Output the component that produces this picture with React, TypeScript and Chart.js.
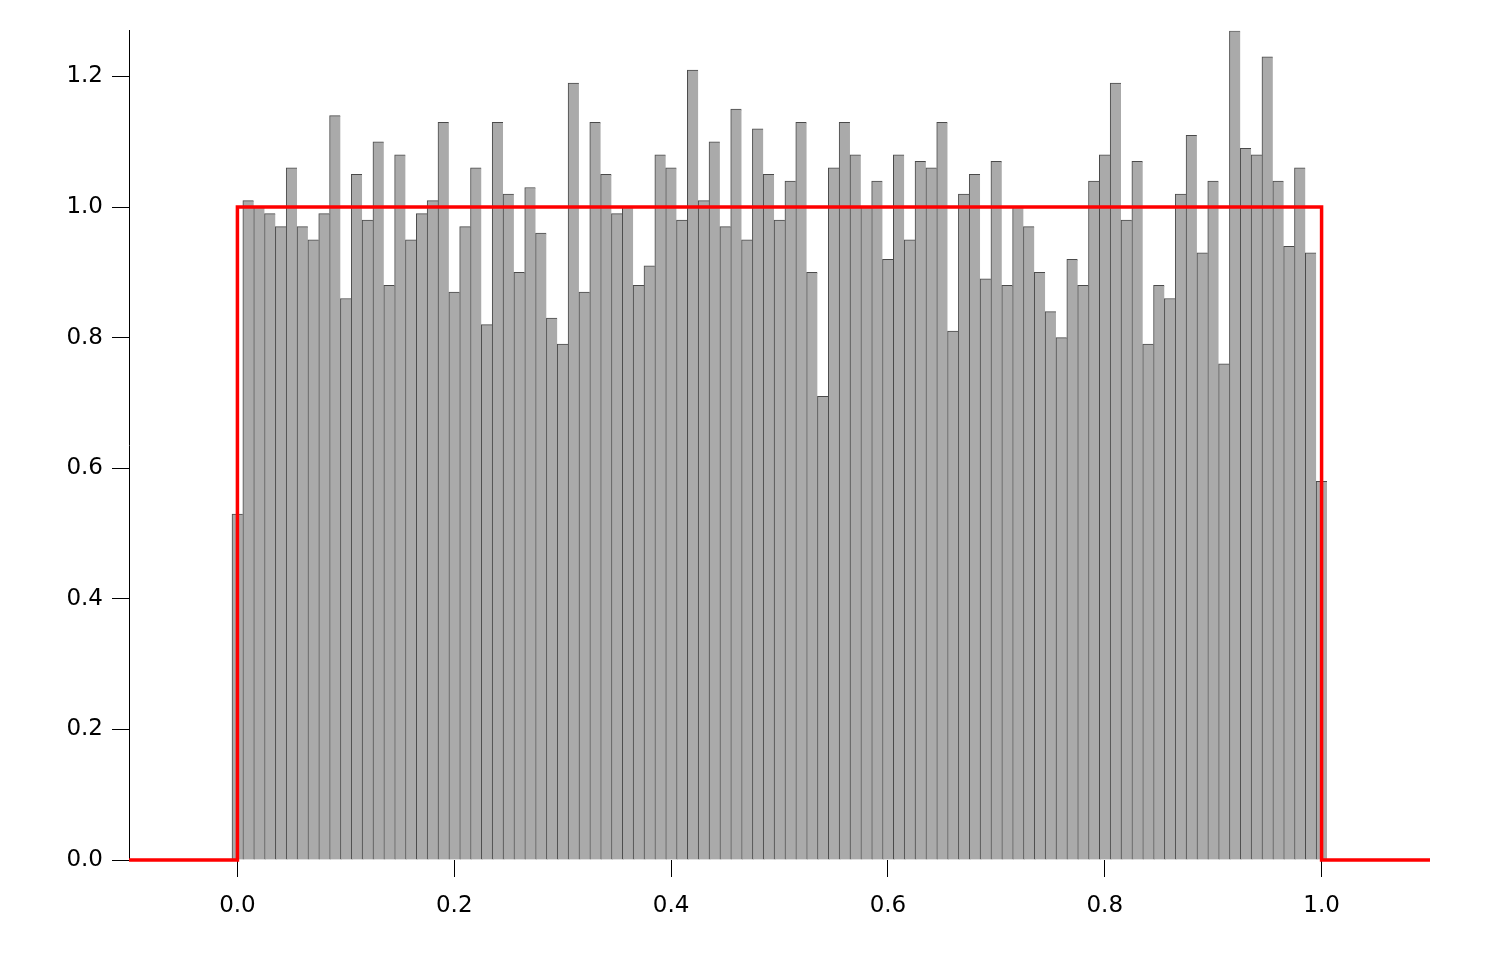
import React, { useEffect, useRef } from "react";
import { Chart, registerables } from "chart.js";

Chart.register(...registerables);

// Histogram bin centres (bin width 0.01) and normalised heights
const binCenters: number[] = Array.from({ length: 101 }, (_, i) => i / 100);
const density: number[] = [
  0.53, 1.01, 1.0, 0.99, 0.97, 1.06, 0.97, 0.95, 0.99, 1.14,
  0.86, 1.05, 0.98, 1.1, 0.88, 1.08, 0.95, 0.99, 1.01, 1.13,
  0.87, 0.97, 1.06, 0.82, 1.13, 1.02, 0.9, 1.03, 0.96, 0.83,
  0.79, 1.19, 0.87, 1.13, 1.05, 0.99, 1.0, 0.88, 0.91, 1.08,
  1.06, 0.98, 1.21, 1.01, 1.1, 0.97, 1.15, 0.95, 1.12, 1.05,
  0.98, 1.04, 1.13, 0.9, 0.71, 1.06, 1.13, 1.08, 1.0, 1.04,
  0.92, 1.08, 0.95, 1.07, 1.06, 1.13, 0.81, 1.02, 1.05, 0.89,
  1.07, 0.88, 1.0, 0.97, 0.9, 0.84, 0.8, 0.92, 0.88, 1.04,
  1.08, 1.19, 0.98, 1.07, 0.79, 0.88, 0.86, 1.02, 1.11, 0.93,
  1.04, 0.76, 1.27, 1.09, 1.08, 1.23, 1.04, 0.94, 1.06, 0.93,
  0.58,
];

// Uniform PDF outline
const pdfX: number[] = [-0.1, 0, 0, 1, 1, 1.1];
const pdfY: number[] = [0, 0, 1, 1, 0, 0];

const xTicks: number[] = [0, 0.2, 0.4, 0.6, 0.8, 1.0];
const yTicks: number[] = [0, 0.2, 0.4, 0.6, 0.8, 1.0, 1.2];

export default function App() {
  const ref = useRef<HTMLCanvasElement>(null);

  useEffect(() => {
    if (!ref.current) return;
    const font = { family: "'DejaVu Sans', sans-serif", size: 23 };
    const chart = new Chart(ref.current, {
      type: "bar",
      data: {
        datasets: [
          {
            type: "line",
            data: pdfX.map((x, i) => ({ x, y: pdfY[i] })),
            borderColor: "#ff0000",
            borderWidth: 3.5,
            pointRadius: 0,
            tension: 0,
            fill: false,
            borderJoinStyle: "miter",
            borderCapStyle: "butt",
            clip: false,
            order: 0,
          } as any,
          {
            type: "bar",
            data: binCenters.map((x, i) => ({ x, y: density[i] })),
            backgroundColor: "#aaaaaa",
            borderColor: "#4a4a4a",
            borderWidth: { top: 1, left: 1, right: 0, bottom: 0 },
            borderSkipped: false,
            barPercentage: 1,
            categoryPercentage: 1,
            order: 1,
          } as any,
        ],
      },
      options: {
        responsive: false,
        animation: false,
        devicePixelRatio: 1,
        layout: { padding: { top: 22, right: 56, left: 0, bottom: 0 } },
        plugins: {
          legend: { display: false },
          tooltip: { enabled: false },
        },
        scales: {
          x: {
            type: "linear",
            min: -0.1,
            max: 1.1,
            offset: false,
            grid: {
              display: true,
              drawOnChartArea: false,
              drawTicks: true,
              tickLength: 17,
              color: "#000",
              lineWidth: 1,
              offset: false,
            },
            border: { display: false },
            ticks: {
              font,
              color: "#000",
              padding: 15,
              maxRotation: 0,
              autoSkip: false,
              callback: (v: any) => Number(v).toFixed(1),
            },
            afterBuildTicks: (s: any) => {
              s.ticks = xTicks.map((v) => ({ value: v }));
            },
            afterFit: (s: any) => {
              s.height = 88;
            },
          },
          y: {
            type: "linear",
            min: 0,
            max: 1.27,
            grid: {
              display: true,
              drawOnChartArea: false,
              drawTicks: true,
              tickLength: 17,
              color: "#000",
              lineWidth: 1,
            },
            border: { display: true, color: "#000", width: 1 },
            ticks: {
              font,
              color: "#000",
              padding: 9,
              callback: (v: any) => Number(v).toFixed(1),
            },
            afterBuildTicks: (s: any) => {
              s.ticks = yTicks.map((v) => ({ value: v }));
            },
            afterFit: (s: any) => {
              s.width = 121;
            },
          },
        },
      } as any,
    });
    return () => chart.destroy();
  }, []);

  return (
    <canvas
      ref={ref}
      width={1478}
      height={940}
      style={{ display: "block", width: 1478, height: 940 }}
    />
  );
}
